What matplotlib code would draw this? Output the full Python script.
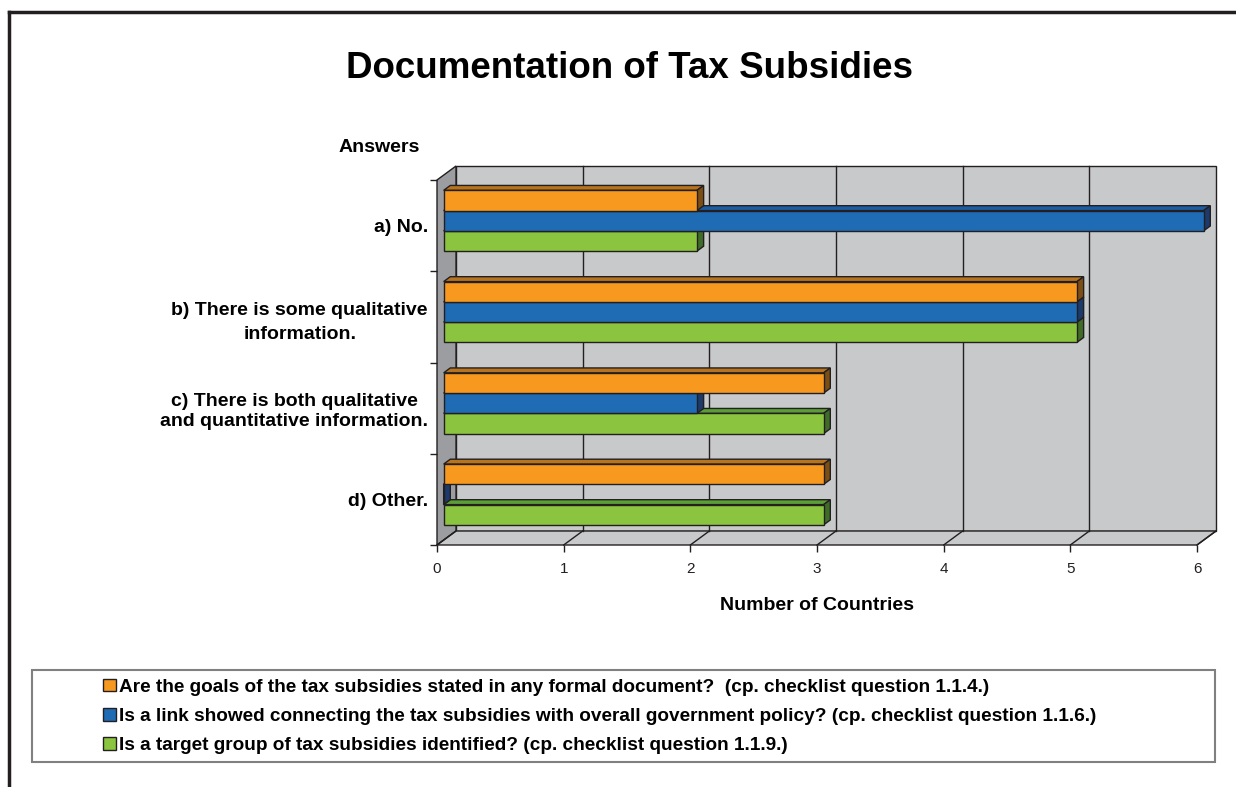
import numpy as np
import matplotlib
matplotlib.use("Agg")
import matplotlib.pyplot as plt
from matplotlib.patches import Polygon, Rectangle, Patch
from matplotlib.lines import Line2D

plt.rcParams['font.family'] = ['Liberation Sans', 'DejaVu Sans']

# data
categories = ['a) No.',
              'b) There is some qualitative\ninformation.',
              'c) There is both qualitative\nand quantitative information.',
              'd) Other.']
goals_stated = [2, 5, 3, 3]
policy_link = [6, 5, 2, 0]
target_group = [2, 5, 3, 3]
series_labels = [
    'Are the goals of the tax subsidies stated in any formal document?  (cp. checklist question 1.1.4.)',
    'Is a link showed connecting the tax subsidies with overall government policy? (cp. checklist question 1.1.6.)',
    'Is a target group of tax subsidies identified? (cp. checklist question 1.1.9.)',
]
x_ticks = [0, 1, 2, 3, 4, 5, 6]

# colours: front, top, side
ORANGE = ('#F7991F', '#B8731E', '#7C4E14')
BLUE = ('#1F6BB4', '#1B5CA3', '#1C3A6C')
GREEN = ('#8BC53F', '#5C9E36', '#3F6D27')
EDGE = '#231F20'
WALL = '#C8C9CB'
SIDE_WALL = '#9C9DA0'

W, H = 1236, 787
fig = plt.figure(figsize=(W / 100, H / 100), dpi=100)

# front plane of the 3-D box
ax = fig.add_axes([437 / W, 1 - 545 / H, 760 / W, 365 / H])
ax.set_xlim(0, x_ticks[-1])
ax.set_ylim(len(categories) - 0.5, -0.5)
for s in ax.spines.values():
    s.set_visible(False)
ax.patch.set_visible(False)

# depth of the box (pixels right / up) converted to data units
DEPTH_PX = np.array([19.0, 14.0])
o = ax.transData.transform((0, 0))
ddx, ddy = ax.transData.inverted().transform(o + DEPTH_PX)

y_top, y_bot = -0.5, len(categories) - 0.5
xmax = x_ticks[-1]

def poly(pts, fc, z, lw=1.0):
    ax.add_patch(Polygon(pts, closed=True, facecolor=fc, edgecolor=EDGE,
                         lw=lw, zorder=z, clip_on=False, joinstyle='miter'))

# walls and floor
poly([(ddx, y_top + ddy), (xmax + ddx, y_top + ddy),
      (xmax + ddx, y_bot + ddy), (ddx, y_bot + ddy)], WALL, 0.5)
poly([(0, y_top), (ddx, y_top + ddy), (ddx, y_bot + ddy), (0, y_bot)], SIDE_WALL, 0.6)
poly([(0, y_bot), (xmax, y_bot), (xmax + ddx, y_bot + ddy), (ddx, y_bot + ddy)], WALL, 0.6)

# gridlines on back wall and floor
for k in x_ticks[1:-1]:
    ax.plot([k + ddx, k + ddx], [y_bot + ddy, y_top + ddy], color=EDGE, lw=1,
            zorder=0.7, clip_on=False)
for k in x_ticks:
    ax.plot([k, k + ddx], [y_bot, y_bot + ddy], color=EDGE, lw=1,
            zorder=0.7, clip_on=False)

# bars, drawn bottom to top so upper bars hide the lower top faces
bar_h = 0.222
d0, d1 = 0.35, 0.70
sx, sy = (d1 - d0) * ddx, (d1 - d0) * ddy
series = [(target_group, bar_h, GREEN, 2),
          (policy_link, 0.0, BLUE, 3),
          (goals_stated, -bar_h, ORANGE, 4)]
ypos = np.arange(len(categories))
for vals, off, (front, top, side), z in series:
    yc = ypos + off + d0 * ddy
    x0 = d0 * ddx
    for i, v in enumerate(vals):
        yt, yb = yc[i] - bar_h / 2, yc[i] + bar_h / 2
        x1 = x0 + v
        poly([(x0, yt), (x1, yt), (x1 + sx, yt + sy), (x0 + sx, yt + sy)], top, z)
        poly([(x1, yt), (x1 + sx, yt + sy), (x1 + sx, yb + sy), (x1, yb)], side, z)
    ax.barh(yc, vals, height=bar_h, left=x0, color=front, edgecolor=EDGE,
            lw=1, zorder=z + 0.5, clip_on=False)

# axes ticks and labels
ax.set_xticks(x_ticks)
ax.tick_params(axis='x', length=5, width=1, color=EDGE, labelsize=11, pad=7.5,
               labelcolor='#231F20')
ax.set_yticks(np.arange(len(categories) + 1) - 0.5, [''] * (len(categories) + 1))
ax.tick_params(axis='y', which='major', length=5, width=1, color=EDGE)
ax.set_yticks(ypos, categories, minor=True)
ax.tick_params(axis='y', which='minor', length=0, pad=6.5, labelsize=14)
for lbl, spacing in zip(ax.get_yticklabels(minor=True), [1.2, 1.57, 1.23, 1.2]):
    lbl.set_fontweight('bold')
    lbl.set_multialignment('center')
    lbl.set_linespacing(spacing)
ax.set_xlabel('Number of Countries', fontsize=14, fontweight='bold', labelpad=15)

fig.text(629 / W, 1 - 68 / H, 'Documentation of Tax Subsidies', ha='center',
         va='center', fontsize=26.5, fontweight='bold')
fig.text(379 / W, 1 - 148 / H, 'Answers', ha='center', va='center',
         fontsize=14, fontweight='bold')

# legend in its own box
fig.patches.append(Rectangle((32 / W, 1 - 762 / H), (1215 - 32) / W, (762 - 670) / H,
                             transform=fig.transFigure, facecolor='none',
                             edgecolor='#808080', lw=1.5))
handles = [Patch(facecolor=c[0], edgecolor=EDGE, lw=1) for c in (ORANGE, BLUE, GREEN)]
fig.legend(handles, series_labels, loc='upper left',
           bbox_to_anchor=(95 / W, 1 - 671 / H), frameon=False,
           prop={'size': 13.7, 'weight': 'bold'}, handlelength=0.68,
           handleheight=0.65, handletextpad=0.2, labelspacing=0.65,
           borderaxespad=0)

# outer frame
fig.add_artist(Line2D([9 / W, 1], [1 - 12 / H, 1 - 12 / H], transform=fig.transFigure,
                      color=EDGE, lw=2.5))
fig.add_artist(Line2D([9 / W, 9 / W], [0, 1 - 12 / H], transform=fig.transFigure,
                      color=EDGE, lw=2.5))

fig.savefig('out.png', dpi=100)
